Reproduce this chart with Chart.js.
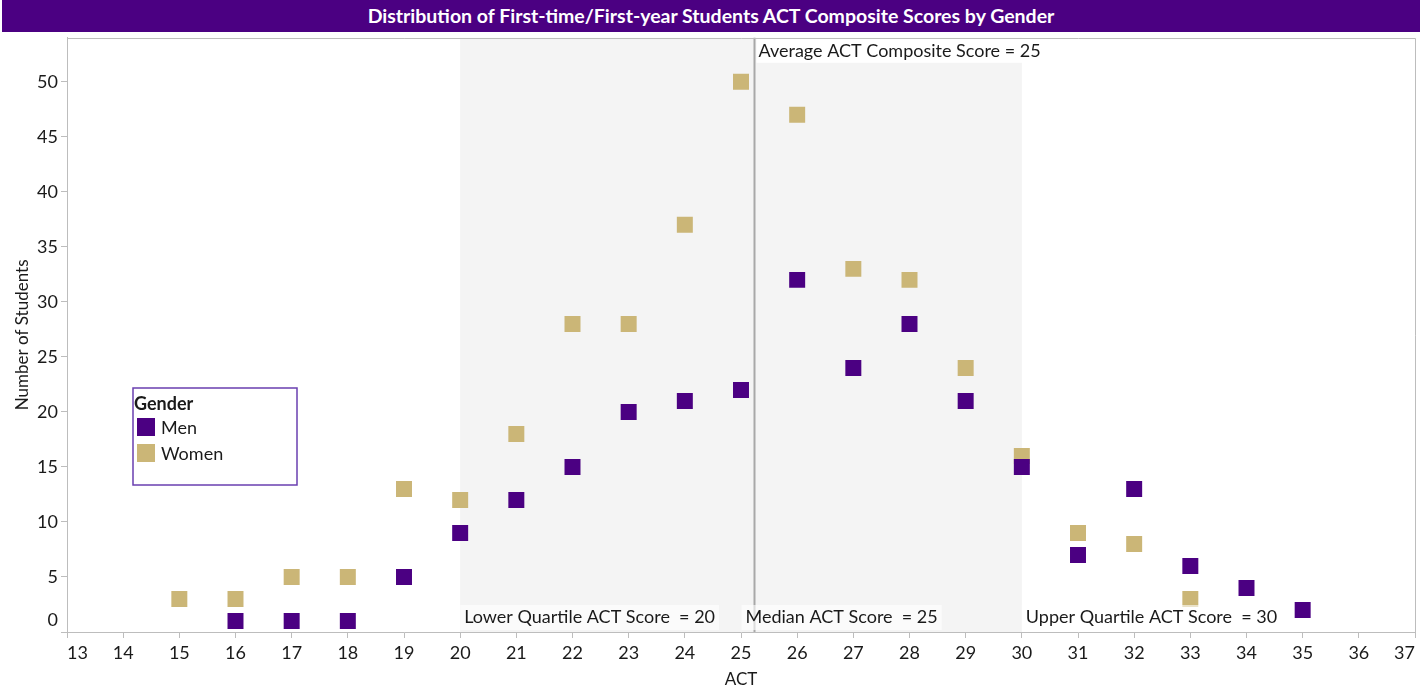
<!DOCTYPE html>
<html lang="en">
<head>
  <meta charset="UTF-8">
  <title>ACT Composite Scores by Gender</title>
  <script src="https://cdn.jsdelivr.net/npm/chart.js"></script>
  <style>
    body { margin: 0; background: #fff; font-family: Lato, sans-serif; }
    #title {
      position: absolute; left: 2px; top: 0; width: 1418px; height: 32px; z-index: 2;
      background: #4b0082; color: #fff; font-weight: bold; font-size: 19.5px;
      line-height: 32px; text-align: center;
    }
    /* canvas starts under the title bar: Chart.js keeps ~12px above the plot for the square markers */
    #chart-container { position: absolute; left: 0; top: 24px; width: 1426px; height: 670px; z-index: 1; }
  </style>
</head>
<body>

<div id="title">Distribution of First-time/First-year Students ACT Composite Scores by Gender</div>
<div id="chart-container">
  <canvas id="actChart" width="1426" height="670"></canvas>
</div>

<script>
  // ACT score categories and student counts (null = no students)
  const actScores = [15, 16, 17, 18, 19, 20, 21, 22, 23, 24, 25, 26, 27, 28, 29, 30, 31, 32, 33, 34, 35];
  const menCounts = [null, 1, 1, 1, 5, 9, 12, 15, 20, 21, 22, 32, 24, 28, 21, 15, 7, 13, 6, 4, 2];
  const womenCounts = [3, 3, 5, 5, 13, 12, 18, 28, 28, 37, 50, 47, 33, 32, 24, 16, 9, 8, 3, null, null];

  // reference values
  const averageScore = 25.24;
  const lowerQuartile = 20;
  const medianScore = 25;
  const upperQuartile = 30;

  const menColor = '#4b0082';
  const womenColor = '#cbb677';
  const axisGray = '#bdbdbd';
  const textFont = 'Lato, sans-serif';
  const canvasTop = 24;

  function toPoints(values) {
    const pts = [];
    actScores.forEach((s, i) => {
      if (values[i] !== null) pts.push({ x: s, y: values[i] });
    });
    return pts;
  }

  const decorations = {
    id: 'decorations',
    beforeDatasetsDraw(chart) {
      const { ctx, chartArea: a, scales: { x } } = chart;
      ctx.save();
      // interquartile band
      ctx.fillStyle = '#f4f4f4';
      const x1 = x.getPixelForValue(lowerQuartile), x2 = x.getPixelForValue(upperQuartile);
      ctx.fillRect(x1, a.top, x2 - x1, a.bottom - a.top);
      // average line
      const xa = Math.round(x.getPixelForValue(averageScore)) + 0.5;
      ctx.strokeStyle = '#a8a8a8';
      ctx.lineWidth = 2;
      ctx.beginPath();
      ctx.moveTo(xa, a.top);
      ctx.lineTo(xa, a.bottom);
      ctx.stroke();
      ctx.restore();
    },
    afterDatasetsDraw(chart) {
      const { ctx, chartArea: a, scales: { x, y } } = chart;
      ctx.save();
      ctx.font = '18px ' + textFont;
      ctx.textBaseline = 'middle';
      ctx.textAlign = 'left';

      function label(text, px, py) {
        const w = ctx.measureText(text).width;
        ctx.fillStyle = 'rgba(255,255,255,0.6)';
        ctx.fillRect(px - 4, py - 12, w + 8, 25);
        ctx.fillStyle = '#1a1a1a';
        ctx.fillText(text, px, py);
      }
      const by = a.bottom - 15;
      label('Lower Quartile ACT Score  = ' + lowerQuartile, x.getPixelForValue(lowerQuartile) + 4, by);
      label('Median ACT Score  = ' + medianScore, x.getPixelForValue(averageScore) - 9, by);
      label('Upper Quartile ACT Score  = ' + upperQuartile, x.getPixelForValue(upperQuartile) + 4, by);

      // average label at top
      const avgText = 'Average ACT Composite Score = ' + Math.round(averageScore);
      const ax = x.getPixelForValue(averageScore) + 4;
      const aw = ctx.measureText(avgText).width;
      ctx.fillStyle = '#ffffff';
      ctx.fillRect(ax - 2, a.top + 1, aw + 6, 24);
      ctx.fillStyle = '#1a1a1a';
      ctx.fillText(avgText, ax, a.top + 13);

      // plot frame: top and right
      ctx.strokeStyle = axisGray;
      ctx.lineWidth = 1;
      ctx.beginPath();
      ctx.moveTo(a.left, Math.round(a.top) + 0.5);
      ctx.lineTo(Math.round(a.right) + 0.5, Math.round(a.top) + 0.5);
      ctx.lineTo(Math.round(a.right) + 0.5, a.bottom);
      ctx.stroke();

      // "0" tick label, lifted to sit above the axis line
      ctx.font = '18px ' + textFont;
      ctx.textAlign = 'right';
      ctx.textBaseline = 'bottom';
      ctx.fillStyle = '#1a1a1a';
      ctx.fillText('0', a.left - 9, y.getPixelForValue(0) - 3);

      // legend box
      const lx = 133, ly = 388 - canvasTop;
      ctx.strokeStyle = '#6a3fb0';
      ctx.lineWidth = 1.5;
      ctx.strokeRect(lx, ly, 164, 97);
      ctx.textAlign = 'left';
      ctx.textBaseline = 'middle';
      ctx.font = 'bold 18px ' + textFont;
      ctx.fillText('Gender', lx + 1, ly + 16);
      ctx.font = '18px ' + textFont;
      [['Men', menColor], ['Women', womenColor]].forEach(([name, col], i) => {
        const ry = ly + 30 + i * 26;
        ctx.fillStyle = col;
        ctx.fillRect(lx + 4, ry, 18, 18);
        ctx.fillStyle = '#1a1a1a';
        ctx.fillText(name, lx + 28, ry + 10);
      });
      ctx.restore();
    }
  };

  const ctx = document.getElementById('actChart').getContext('2d');
  const actChart = new Chart(ctx, {
    type: 'scatter',
    data: {
      datasets: [{
        label: 'Men',
        data: toPoints(menCounts),
        pointStyle: 'rect',
        pointRadius: 11.3,
        pointHoverRadius: 11.3,
        backgroundColor: menColor,
        borderWidth: 0
      }, {
        label: 'Women',
        data: toPoints(womenCounts),
        pointStyle: 'rect',
        pointRadius: 11.3,
        pointHoverRadius: 11.3,
        backgroundColor: womenColor,
        borderWidth: 0
      }]
    },
    options: {
      responsive: false,
      animation: false,
      layout: { autoPadding: false, padding: { top: 0, right: 11, left: 0, bottom: 0 } },
      plugins: {
        legend: { display: false },
        tooltip: { enabled: false }
      },
      scales: {
        x: {
          type: 'linear',
          min: 13,
          max: 37,
          border: { color: axisGray },
          grid: { drawOnChartArea: false, color: axisGray, tickLength: 6 },
          ticks: {
            stepSize: 1, align: 'inner', padding: 4,
            color: '#1a1a1a', font: { family: textFont, size: 18 }
          },
          title: {
            display: true, text: 'ACT', color: '#1a1a1a',
            font: { family: textFont, size: 17 }, padding: { top: 6 }
          },
          afterFit(scale) { scale.height = 62; }
        },
        y: {
          min: 0,
          max: 54,
          border: { color: axisGray },
          grid: { drawOnChartArea: false, color: axisGray, tickLength: 6 },
          ticks: {
            stepSize: 5, includeBounds: false, padding: 3,
            color: '#1a1a1a', font: { family: textFont, size: 18 },
            callback: v => (v === 0 ? '' : v)
          },
          title: {
            display: true, text: 'Number of Students', color: '#1a1a1a',
            font: { family: textFont, size: 17 }, padding: { top: 12, bottom: 4 }
          },
          afterFit(scale) { scale.width = 67; }
        }
      }
    },
    plugins: [decorations]
  });
</script>

</body>
</html>
